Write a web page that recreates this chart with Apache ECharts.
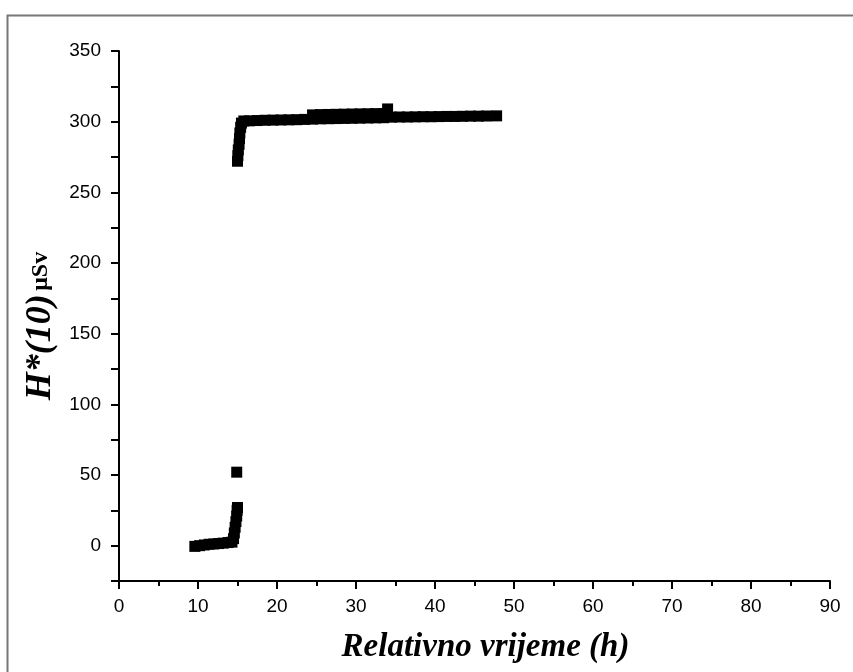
<!DOCTYPE html>
<html>
<head>
<meta charset="utf-8">
<script src="https://cdn.jsdelivr.net/npm/echarts@6/dist/echarts.min.js"></script>
<style>
  html, body { margin: 0; padding: 0; background: #fff; }
  #main { width: 853px; height: 672px; }
</style>
</head>
<body>
<div id="main"></div>
<script>
// relative time (h) and dose H*(10) in uSv
const timeH = [
  9.6, 10.2, 10.8, 11.4, 12.0, 12.6, 13.2, 13.8, 14.3,
  14.5, 14.6, 14.7, 14.8, 14.9, 14.95, 15.0,
  14.9,
  15.0, 15.05, 15.1, 15.2, 15.25, 15.3, 15.4, 15.5, 15.8,
  16.5, 17.5, 18.5, 19.5, 20.5, 21.5, 22.5, 23.5,
  24.5, 25.5, 26.5, 27.5, 28.5, 29.5, 30.5, 31.5, 32.5, 33.5,
  24.5, 25.5, 26.5, 27.5, 28.5, 29.5, 30.5, 31.5, 32.5, 33.5,
  34.0,
  34.5, 35.5, 36.5, 37.5, 38.5, 39.5, 40.5, 41.5, 42.5, 43.5, 44.5, 45.5, 46.5, 47.8
];
const doseUSv = [
  -0.5, 0, 0.5, 1.0, 1.2, 1.5, 1.8, 2.2, 2.5,
  5, 9, 13, 17, 21, 25, 27,
  52,
  272, 276, 280, 284, 288, 292, 296, 299, 300.5,
  300.6, 300.8, 301.0, 301.1, 301.2, 301.3, 301.4, 301.6,
  301.8, 302.0, 302.1, 302.2, 302.3, 302.4, 302.5, 302.6, 302.7, 302.8,
  304.8, 305.0, 305.1, 305.2, 305.3, 305.4, 305.5, 305.6, 305.7, 305.8,
  309,
  303.2, 303.3, 303.3, 303.4, 303.5, 303.5, 303.6, 303.7, 303.7, 303.8, 303.9, 303.9, 304.0, 304.1
];
const xTicks = [0, 10, 20, 30, 40, 50, 60, 70, 80, 90];
const yTicks = [0, 50, 100, 150, 200, 250, 300, 350];

const points = timeH.map((t, i) => [t, doseUSv[i]]);

const chart = echarts.init(document.getElementById('main'));

const serif = 'Liberation Serif, Times New Roman, serif';

chart.setOption({
  backgroundColor: '#fff',
  animation: false,
  graphic: [{
    type: 'rect',
    left: 5, top: 13,
    shape: { width: 860, height: 680 },
    style: { fill: 'none', stroke: '#777', lineWidth: 2 }
  }],
  grid: { left: 119, right: 23, top: 51, bottom: 91 },
  xAxis: {
    type: 'value',
    min: xTicks[0],
    max: xTicks[xTicks.length - 1],
    interval: 10,
    name: 'Relativno vrijeme (h)',
    nameLocation: 'middle',
    nameGap: 50,
    nameTextStyle: {
      color: '#000', fontSize: 33, fontStyle: 'italic', fontWeight: 'bold',
      fontFamily: serif,
      padding: [0, 0, 0, 22]
    },
    axisLine: { onZero: false, lineStyle: { color: '#000', width: 2 } },
    axisTick: { length: 8, lineStyle: { color: '#000', width: 2 } },
    minorTick: { show: true, splitNumber: 2, length: 5, lineStyle: { color: '#000', width: 2 } },
    axisLabel: {
      margin: 16, color: '#000', fontSize: 19,
      fontFamily: 'Liberation Sans, Arial, sans-serif'
    },
    splitLine: { show: false }
  },
  yAxis: {
    type: 'value',
    min: -25,
    max: yTicks[yTicks.length - 1],
    interval: 25,
    name: '{h|H*(10)} {u|μSv}',
    nameLocation: 'middle',
    nameGap: 52,
    nameRotate: 90,
    nameTextStyle: {
      padding: [0, 20, 0, 0],
      rich: {
        h: { color: '#000', fontSize: 36, fontStyle: 'italic', fontWeight: 'bold', fontFamily: serif },
        u: { color: '#000', fontSize: 24, fontWeight: 'bold', fontFamily: serif }
      }
    },
    axisLine: { onZero: false, lineStyle: { color: '#000', width: 2 } },
    axisTick: {
      length: 8, lineStyle: { color: '#000', width: 2 },
      interval: (i, v) => yTicks.indexOf(v) >= 0
    },
    axisLabel: {
      margin: 18, color: '#000', fontSize: 19,
      fontFamily: 'Liberation Sans, Arial, sans-serif',
      formatter: v => (yTicks.indexOf(v) >= 0 ? String(v) : '')
    },
    splitLine: { show: false }
  },
  series: [{
    type: 'scatter',
    data: points,
    symbol: 'rect',
    symbolSize: 11,
    itemStyle: { color: '#000', opacity: 1 }
  }]
});
</script>
</body>
</html>
